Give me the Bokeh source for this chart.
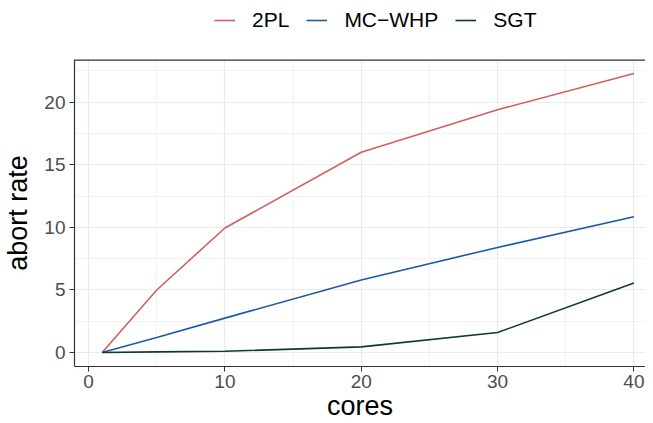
from bokeh.plotting import figure
from bokeh.models import Range1d, Legend, LegendItem, FixedTicker, Span
from bokeh.layouts import column
from bokeh.embed import file_html
from bokeh.resources import INLINE

cores = [1, 5, 10, 20, 30, 40]
rate_2pl = [0.0, 5.0, 9.95, 16.0, 19.4, 22.3]
rate_mcwhp = [0.0, 1.2, 2.75, 5.8, 8.4, 10.85]
rate_sgt = [0.0, 0.05, 0.1, 0.45, 1.6, 5.55]
series = [rate_2pl, rate_mcwhp, rate_sgt]
series_names = ["2PL", "MC\u2212WHP", "SGT"]
colors = ["#d0605e", "#1a5aa6", "#0d3b2a"]
x_ticks = [0, 10, 20, 30, 40]
y_ticks = [0, 5, 10, 15, 20]

FONT = "Liberation Sans"
Y_TOP = 23.415
W = 645

# ---- legend strip (separate figure above the plot) ----
leg_fig = figure(width=W, height=50, output_backend="svg", toolbar_location=None,
                 x_range=Range1d(100, 101), y_range=Range1d(100, 101),
                 min_border_left=0, min_border_right=0, min_border_top=0, min_border_bottom=0)
leg_fig.axis.visible = False
leg_fig.grid.visible = False
leg_fig.outline_line_color = None
leg_fig.background_fill_color = "white"
leg_fig.border_fill_color = "white"
leg_renderers = [leg_fig.line(cores, vals, line_color=c, line_width=1.6)
                 for vals, c in zip(series, colors)]
legend = Legend(items=[LegendItem(label=n, renderers=[r]) for n, r in zip(series_names, leg_renderers)],
                orientation="horizontal", location=(140, 18),
                label_text_font=FONT, label_text_font_size="21px", label_text_color="black",
                glyph_width=21, label_standoff=17, spacing=17,
                border_line_color=None, background_fill_alpha=0,
                padding=0, margin=0)
leg_fig.add_layout(legend, "center")

# ---- main plot ----
p = figure(width=W, height=373, output_backend="svg", toolbar_location=None,
           x_range=Range1d(-1.03, 40.85), y_range=Range1d(-1.115, Y_TOP),
           min_border_left=68, min_border_right=0, min_border_bottom=0, min_border_top=9)

p.background_fill_color = "white"
p.border_fill_color = "white"
p.outline_line_color = None

for vals, c in zip(series, colors):
    p.line(cores, vals, line_color=c, line_width=1.6)

for ax in (p.xaxis[0], p.yaxis[0]):
    ax.axis_line_color = "#333333"
    ax.axis_line_width = 1.2
    ax.major_tick_line_color = "#333333"
    ax.major_tick_out = 5
    ax.major_tick_in = 0
    ax.minor_tick_line_color = None
    ax.major_label_text_font = FONT
    ax.major_label_text_font_size = "19px"
    ax.major_label_text_color = "#4d4d4d"
    ax.axis_label_text_font = FONT
    ax.axis_label_text_font_size = "27px"
    ax.axis_label_text_font_style = "normal"
    ax.axis_label_text_color = "black"

p.xaxis[0].ticker = FixedTicker(ticks=x_ticks, minor_ticks=[5, 15, 25, 35])
p.yaxis[0].ticker = FixedTicker(ticks=y_ticks, minor_ticks=[2.5, 7.5, 12.5, 17.5, 22.5])
p.xaxis[0].axis_label = "cores"
p.yaxis[0].axis_label = "abort rate"
p.xaxis[0].major_label_standoff = 3
p.yaxis[0].major_label_standoff = 4
p.xaxis[0].axis_label_standoff = 0
p.yaxis[0].axis_label_standoff = 8

for g in (p.xgrid[0], p.ygrid[0]):
    g.grid_line_color = "#ebebeb"
    g.grid_line_width = 1.2
    g.minor_grid_line_color = "#ebebeb"
    g.minor_grid_line_width = 0.6

# top border of the panel
p.add_layout(Span(location=Y_TOP, dimension="width", line_color="#333333", line_width=2.4))

layout = column(leg_fig, p, spacing=0)
open("out.html", "w").write(file_html(layout, INLINE))
